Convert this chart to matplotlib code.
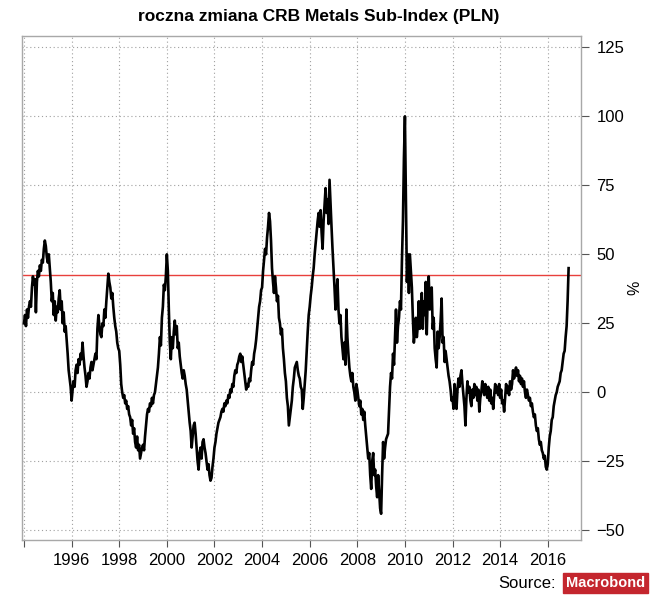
import numpy as np
import matplotlib
matplotlib.use("Agg")
import matplotlib.pyplot as plt

plt.rcParams['font.family'] = ['Liberation Sans', 'DejaVu Sans']

# roczna zmiana (%), dwa odczyty na miesiac, od poczatku 1994
start_year = 1994
points_per_year = 24
pct_change = [
    25, 28, 24, 30, 27, 31, 33, 31, 38, 42, 39, 41, 29, 40, 44, 42, 46, 44, 48, 47, 52, 55, 53, 49,  # 1994
    47, 50, 45, 40, 33, 36, 28, 33, 26, 31, 29, 34, 37, 30, 33, 25, 29, 22, 24, 19, 14, 8, 5, 2,  # 1995
    -3, 1, 4, 2, 8, 10, 7, 12, 10, 14, 12, 18, 13, 9, 6, 2, 4, 7, 5, 9, 11, 8, 10, 12,  # 1996
    14, 12, 23, 28, 24, 21, 20, 25, 24, 30, 27, 33, 38, 43, 40, 38, 34, 36, 31, 27, 24, 22, 18, 16,  # 1997
    15, 10, 3, 0, -2, -1, -4, -3, -6, -5, -8, -9, -12, -10, -15, -13, -18, -20, -16, -21, -19, -24, -22, -20,  # 1998
    -19, -21, -16, -12, -8, -6, -7, -4, -5, -2, -4, -1, 0, 3, 6, 9, 14, 20, 17, 27, 31, 39, 37, 42,  # 1999
    50, 44, 30, 18, 12, 20, 16, 22, 26, 21, 24, 16, 18, 13, 10, 7, 5, 8, 6, 3, 1, -3, -7, -11,  # 2000
    -14, -20, -16, -12, -11, -15, -20, -25, -28, -22, -20, -24, -18, -17, -20, -22, -25, -28, -26, -30, -32, -31, -27, -24,  # 2001
    -20, -18, -15, -13, -11, -10, -9, -7, -6, -7, -4, -5, -3, -4, -1, -2, 1, 0, 3, 2, 6, 8, 7, 10,  # 2002
    11, 13, 14, 11, 13, 10, 7, 4, 1, 3, 2, 5, 4, 8, 11, 10, 14, 16, 19, 23, 27, 31, 33, 37,  # 2003
    38, 44, 48, 52, 50, 56, 60, 65, 62, 55, 45, 40, 36, 42, 38, 33, 35, 27, 25, 21, 23, 16, 12, 7,  # 2004
    4, -2, -5, -12, -9, -6, -3, 2, 5, 9, 10, 11, 8, 6, 5, 2, 1, -6, -2, 3, 8, 15, 22, 28,  # 2005
    31, 35, 38, 42, 45, 50, 54, 58, 62, 65, 60, 66, 58, 52, 62, 68, 74, 65, 70, 61, 77, 68, 60, 52,  # 2006
    45, 38, 30, 36, 41, 30, 25, 28, 20, 16, 12, 18, 10, 30, 20, 14, 9, 6, 4, 7, 2, 0, -3, 3,  # 2007
    1, -2, -5, -3, -8, -6, -10, -7, -12, -16, -20, -24, -22, -30, -35, -25, -22, -30, -28, -34, -38, -30, -36, -42,  # 2008
    -44, -30, -18, -24, -20, -17, -16, -15, -6, 2, 7, 5, 14, 10, 20, 30, 18, 24, 27, 33, 30, 48, 62, 85,  # 2009
    100, 70, 40, 50, 36, 50, 44, 38, 27, 18, 22, 27, 20, 24, 33, 23, 30, 36, 23, 33, 28, 40, 21, 35,  # 2010
    42, 30, 33, 38, 23, 27, 16, 12, 9, 22, 16, 20, 26, 34, 18, 20, 11, 15, 12, 9, 6, 4, 1, -3,  # 2011
    -2, -6, 3, -1, -6, 1, 5, 2, 6, 8, 3, -1, -5, -12, -2, 4, 0, 2, -3, -5, 1, -2, 3, -1,  # 2012
    2, -3, 1, -7, -2, 0, 4, 2, -1, 3, 1, -2, 2, -3, 1, -4, -2, -6, -1, 3, 0, 2, -1, 3,  # 2013
    -2, 1, -4, -3, -7, -2, 3, 0, 2, -1, 4, 1, 3, 8, 5, 7, 9, 6, 8, 4, 6, 3, 5, 2,  # 2014
    4, 0, -2, 1, -1, -3, -2, -5, -4, -7, -9, -8, -12, -14, -13, -17, -19, -18, -21, -22, -24, -23, -27, -28,  # 2015
    -26, -20, -16, -14, -10, -9, -5, -3, -1, 0, 2, 3, 4, 7, 8, 11, 14, 15, 20, 24, 33, 45,  # 2016
]
threshold = 42.4

x_ticks = list(range(1994, 2017, 2))
x_labels = [''] + [str(y) for y in x_ticks[1:]]
y_ticks = [-50, -25, 0, 25, 50, 75, 100, 125]

years = start_year + np.arange(len(pct_change)) / points_per_year

fig = plt.figure(figsize=(6.5, 6.05), dpi=100)
ax = fig.add_axes([0.034, 0.107, 0.860, 0.833])

ax.plot(years, pct_change, color='black', lw=1.9, zorder=3)
ax.axhline(threshold, color='#e8403c', lw=1.0, zorder=2)

ax.set_xlim(1993.92, 2017.4)
ax.set_ylim(-53.6, 129)
ax.set_xticks(x_ticks)
ax.set_xticklabels(x_labels)
ax.set_yticks(y_ticks)

ax.yaxis.tick_right()
ax.yaxis.set_label_position('right')
ax.set_ylabel('%', fontsize=11.5, labelpad=2)

ax.grid(True, color='#a0a0a0', linestyle=(0, (1, 2.5)), lw=0.8)
for s in ax.spines.values():
    s.set_color('#a8a8a8')
    s.set_linewidth(1.0)
ax.tick_params(axis='x', direction='out', length=5, color='#555555', labelsize=12, pad=4)
ax.tick_params(axis='y', direction='out', length=6, color='#555555', labelsize=12, pad=5)

fig.text(0.49, 0.972, 'roczna zmiana CRB Metals Sub-Index (PLN)', ha='center', va='center',
         fontsize=12.5, fontweight='bold')
fig.text(0.855, 0.036, 'Source:', ha='right', va='center', fontsize=12)
fig.text(0.932, 0.036, 'Macrobond', ha='center', va='center', fontsize=10.5, fontweight='bold',
         color='white', family=['Liberation Sans Narrow', 'Liberation Sans'],
         bbox=dict(boxstyle='square,pad=0.2', facecolor='#c4262e', edgecolor='#c4262e'))

fig.savefig('out.png', dpi=100)
